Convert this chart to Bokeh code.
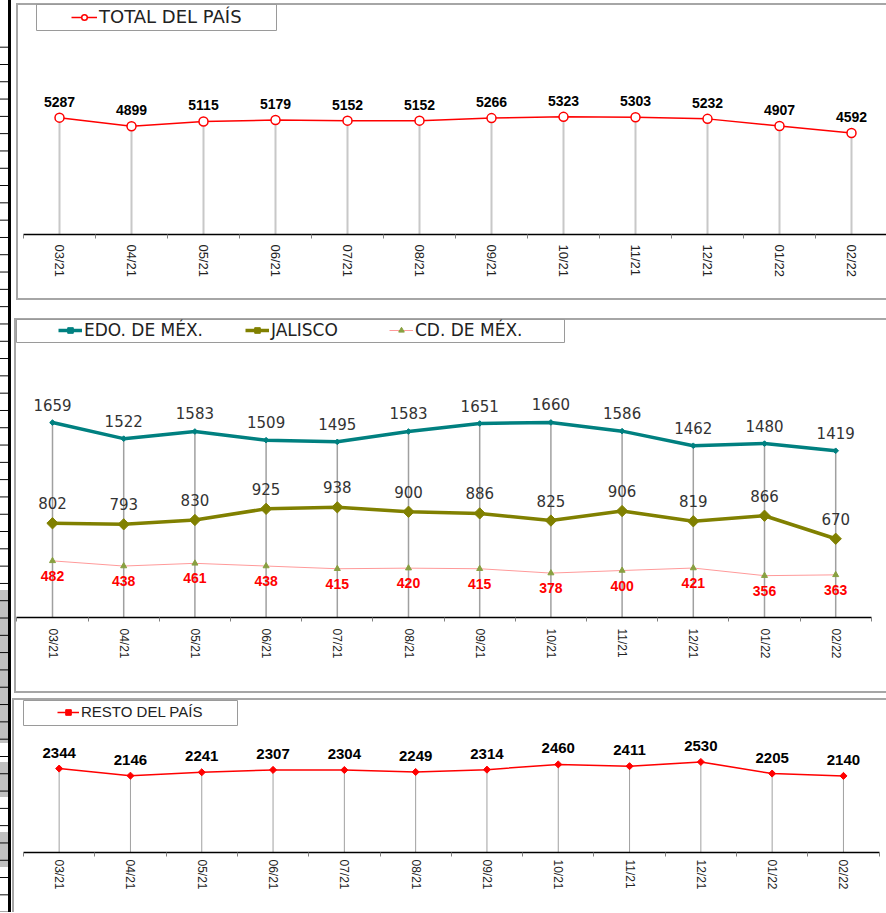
import numpy as np
from bokeh.plotting import figure
from bokeh.layouts import column
from bokeh.models import Range1d, FixedTicker, Legend, LegendItem
from bokeh.core.properties import value
from bokeh.embed import file_html
from bokeh.resources import INLINE

# ---------------- data ----------------
months = ["03/21", "04/21", "05/21", "06/21", "07/21", "08/21",
          "09/21", "10/21", "11/21", "12/21", "01/22", "02/22"]
total_pais = [5287, 4899, 5115, 5179, 5152, 5152, 5266, 5323, 5303, 5232, 4907, 4592]
edo_mex = [1659, 1522, 1583, 1509, 1495, 1583, 1651, 1660, 1586, 1462, 1480, 1419]
jalisco = [802, 793, 830, 925, 938, 900, 886, 825, 906, 819, 866, 670]
cd_mex = [482, 438, 461, 438, 415, 420, 415, 378, 400, 421, 356, 363]
resto_pais = [2344, 2146, 2241, 2307, 2304, 2249, 2314, 2460, 2411, 2530, 2205, 2140]

ARIAL = "Liberation Sans"
WIDE = "DejaVu Sans"
W = 886
FL = 15          # common frame left (frames are aligned in a column)
GRAY = "#a6a6a6"
ROW_H = 17.3     # spreadsheet row height seen at the far left
ROW_0 = 46.7
idx = list(range(len(months)))


class Geo:
    """pixel geometry of one chart frame (layout only, no data)"""
    def __init__(self, top, h, center0, step, axis_y, ppy):
        self.top, self.h = top, h
        self.frame_left, self.step = FL, step
        self.x_start = -(center0 - FL) / step
        self.x_end = self.x_start + (W - FL) / step
        self.axis_y, self.ppy = axis_y, ppy
        self.bottom_border = top + h - axis_y
        self.y_end = (axis_y - top) / ppy

    def dx(self, px):
        return self.x_start + (px - self.frame_left) / self.step

    def dy(self, py):
        return (self.axis_y - py) / self.ppy


def decoration(g, rects, gray_spans):
    """chart borders + spreadsheet edge drawn as CSS background layers"""
    imgs, sizes, poss, reps = [], [], [], []

    def add(x, y, w, h, c, rep="no-repeat"):
        imgs.append(f"linear-gradient({c}, {c})")
        sizes.append(f"{w}px {h}px")
        poss.append(f"{x}px {y}px")
        reps.append(rep)

    for r in rects:
        add(*r)
    # row lines of the sheet
    off = (ROW_0 - g.top) % ROW_H
    imgs.append("linear-gradient(to bottom, #000 0px, #000 1px, rgba(0,0,0,0) 1px)")
    sizes.append(f"8px {ROW_H}px")
    poss.append(f"0px {off:.2f}px")
    reps.append("repeat-y")
    for a, b in gray_spans:
        add(0, a - g.top, 8, b - a, "#c0c0c0")
    return {"background-image": ", ".join(imgs), "background-size": ", ".join(sizes),
            "background-position": ", ".join(poss), "background-repeat": ", ".join(reps)}


def make_fig(g, label_size, standoff, rects, gray_spans):
    p = figure(width=W, height=g.h, output_backend="svg", toolbar_location=None,
               x_range=Range1d(g.x_start, g.x_end), y_range=Range1d(0, g.y_end),
               y_axis_location=None,
               min_border_left=g.frame_left, min_border_right=0,
               min_border_top=0, min_border_bottom=g.bottom_border)
    p.outline_line_color = None
    p.grid.visible = False
    p.background_fill_color = None
    p.border_fill_color = None
    p.styles = decoration(g, rects, gray_spans)
    ax = p.xaxis[0]
    ax.ticker = FixedTicker(ticks=idx, minor_ticks=[i - 0.5 for i in range(len(months) + 1)])
    ax.major_label_overrides = {i: m for i, m in enumerate(months)}
    ax.major_tick_line_color = None
    ax.major_tick_out = 0
    ax.major_tick_in = 0
    ax.minor_tick_line_color = "#808080"
    ax.minor_tick_out = 4
    ax.minor_tick_in = 0
    ax.axis_line_color = "black"
    ax.axis_line_width = 1.5
    ax.bounds = (-0.5, len(months) - 0.5)
    ax.major_label_orientation = "vertical"
    ax.major_label_standoff = standoff
    ax.major_label_text_font = ARIAL
    ax.major_label_text_font_size = label_size
    ax.major_label_text_color = "#222222"
    return p


def legend_box(p, g, x0, y0, x1, y1):
    p.quad(left=g.dx(x0), right=g.dx(x1), top=g.dy(y0), bottom=g.dy(y1),
           fill_color=None, line_color="#9a9a9a", line_width=1)


def legend(p, label, renderers, loc, gw, font, size):
    lg = Legend(items=[LegendItem(label=label, renderers=renderers)],
                location=loc, orientation="horizontal", padding=0, margin=0,
                border_line_color=None, background_fill_alpha=0,
                glyph_width=gw, glyph_height=14, label_height=14, label_standoff=2,
                label_text_font=font, label_text_font_size=size,
                label_text_color="#222222", label_text_baseline="middle")
    p.add_layout(lg)


def labels(p, ys, font, size, bold, color, off):
    p.text(x=idx, y=ys, text=[str(v) for v in ys], text_font=value(font),
           text_font_style="bold" if bold else "normal", text_font_size=size,
           text_align="center", text_baseline="middle", y_offset=off, text_color=color)


# ---------------- chart 1: TOTAL DEL PAÍS ----------------
g1 = Geo(top=0, h=300, center0=59, step=72, axis_y=234, ppy=0.0221)
p1 = make_fig(g1, "13px", 6, [
    (8, 0, 3, 300, "#000"), (0, 0, 8, 46, "#fff"),
    (16, 3, W, 2, GRAY), (16, 3, 2, 297, GRAY), (16, 298, W, 2, GRAY)], [])
legend_box(p1, g1, 36, 4, 276, 30)
p1.segment(x0=idx, y0=[0] * 12, x1=idx, y1=total_pais, line_color="#c8c8c8", line_width=2)
l1 = p1.line(idx, total_pais, line_color="#ff0000", line_width=1.5)
m1 = p1.scatter(idx, total_pais, marker="circle", size=9, fill_color="white",
                line_color="#ff0000", line_width=1.5)
labels(p1, total_pais, ARIAL, "14px", True, "black", -16)
legend(p1, "TOTAL DEL PAÍS", [l1, m1], (56, 207), 26, WIDE, "18px")

# ---------------- chart 2: states ----------------
g2 = Geo(top=300, h=396, center0=52, step=71.2, axis_y=617, ppy=0.1175)
p2 = make_fig(g2, "12px", 7, [
    (8, 0, 3, 396, "#000"),
    (14, 18, W, 2, GRAY), (14, 18, 2, 375, GRAY), (14, 391, W, 2, GRAY)],
    [(590, 696)])
legend_box(p2, g2, 16, 319, 564, 342)
tops = np.maximum(np.maximum(edo_mex, jalisco), cd_mex).tolist()
p2.segment(x0=idx, y0=[0] * 12, x1=idx, y1=tops, line_color="#a0a0a0", line_width=1.5)
lc = p2.line(idx, cd_mex, line_color="#ff9a9a", line_width=1)
mc = p2.scatter(idx, cd_mex, marker="triangle", size=6, fill_color="#88a040",
                line_color="#88a040")
le = p2.line(idx, edo_mex, line_color="#008080", line_width=3.5)
me = p2.scatter(idx, edo_mex, marker="square", angle=np.pi / 4, size=4,
                fill_color="#008080", line_color="#008080")
lj = p2.line(idx, jalisco, line_color="#808000", line_width=3.5)
mj = p2.scatter(idx, jalisco, marker="square", angle=np.pi / 4, size=8,
                fill_color="#808000", line_color="#808000")
labels(p2, edo_mex, WIDE, "15px", False, "#333333", -18)
labels(p2, jalisco, WIDE, "15px", False, "#333333", -20)
labels(p2, cd_mex, ARIAL, "14px", True, "#ff0000", 15)
legend(p2, "EDO. DE MÉX.", [le, me], (43, 277), 24, WIDE, "17px")
legend(p2, "JALISCO", [lj, mj], (230, 277), 24, WIDE, "17px")
legend(p2, "CD. DE MÉX.", [lc, mc], (374, 277), 24, WIDE, "17px")

# ---------------- chart 3: RESTO DEL PAÍS ----------------
g3 = Geo(top=696, h=216, center0=58.65, step=71.3, axis_y=852, ppy=0.0358)
p3 = make_fig(g3, "12px", 3, [
    (8, 0, 3, 216, "#000"),
    (12, 2, W, 2, GRAY), (12, 2, 2, 214, GRAY)],
    [(696, 743), (762, 797), (832, 867)])
legend_box(p3, g3, 23, 700, 237, 725)
p3.segment(x0=idx, y0=[0] * 12, x1=idx, y1=resto_pais, line_color="#a0a0a0", line_width=1)
l3 = p3.line(idx, resto_pais, line_color="#ff0000", line_width=1.5)
m3 = p3.scatter(idx, resto_pais, marker="square", angle=np.pi / 4, size=5,
                fill_color="#ff0000", line_color="#ff0000")
labels(p3, resto_pais, ARIAL, "15px", True, "black", -16)
legend(p3, "RESTO DEL PAÍS", [l3, m3], (42, 132), 22, ARIAL, "15px")

layout = column(p1, p2, p3, spacing=0)
open("out.html", "w").write(file_html(layout, INLINE))
